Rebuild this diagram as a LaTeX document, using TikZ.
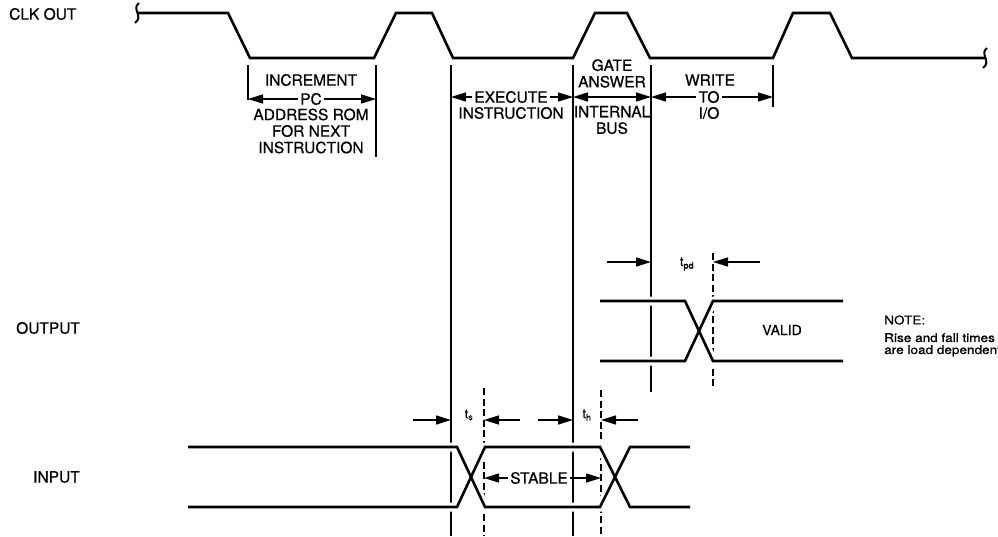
\documentclass[tikz,border=0pt]{standalone}
\usepackage{fontspec}
\setmainfont{TeX Gyre Heros}[FakeBold=0.7]
\usetikzlibrary{arrows.meta}

\tikzset{
  trace/.style={line width=2.6pt},
  guide/.style={line width=1.3pt},
  guidedash/.style={line width=1.3pt, dash pattern=on 7pt off 3.5pt},
  dimarrow/.style={line width=1.5pt, -{Triangle[length=15pt,width=9pt]}},
  dimboth/.style={line width=1.5pt, {Triangle[length=15pt,width=9pt]}-{Triangle[length=15pt,width=9pt]}},
  lbl/.style={inner sep=0pt, align=center, font=\fontsize{15.5}{16.5}\selectfont},
  gap/.style={inner xsep=2pt},
  sub/.style={inner sep=0pt, font=\fontsize{13}{14}\selectfont},
  notetext/.style={inner sep=0pt, align=left, xscale=1.13, font=\fontsize{12}{12}\selectfont},
}

\begin{document}
\begin{tikzpicture}[x=1pt,y=-1pt]
    \useasboundingbox (0,0) rectangle (998,536);

    % signal names
    \node[lbl,anchor=west] (clkname) at (9,14) {CLK OUT};
    \node[lbl,anchor=west] (outname) at (16,328) {OUTPUT};
    \node[lbl,anchor=west] (inname) at (33,477) {INPUT};

    % clock
    \draw[trace] (137,13) -- (228,13) -- (250,58) -- (374,58) -- (396,13) -- (432,13) -- (453,58)
        -- (573,58) -- (595,13) -- (627,13) -- (650,58) -- (773,58) -- (793,13) -- (830,13)
        -- (852,58) -- (985,58);
    \draw[line width=2pt] (139,3) .. controls (131,9) and (144,16) .. (135,23);
    \draw[line width=2pt] (987,48) .. controls (979,54) and (992,61) .. (983,68);

    % cycle boundaries
    \coordinate (incL) at (248,65);
    \coordinate (incR) at (376,65);
    \coordinate (exeL) at (451,65);
    \coordinate (gateL) at (573,65);
    \coordinate (gateR) at (651,65);
    \coordinate (wrR) at (773,65);
    \draw[guide] (incL) -- ++(0,35);
    \draw[guide] (incR) -- ++(0,92);
    \draw[guide] (exeL) -- ++(0,471);
    \draw[guide] (gateL) -- ++(0,471);
    \draw[guide] (gateR) -- ++(0,327);
    \draw[guide] (wrR) -- ++(0,42);

    % timing marks
    \coordinate (tpdD) at (713,253);
    \coordinate (tsD) at (484,388);
    \coordinate (thD) at (601,390);
    \draw[guidedash] (tpdD) -- ++(0,135);
    \draw[guidedash] (tsD) -- ++(0,148);
    \draw[guidedash] (thD) -- ++(0,146);

    % what happens in each part of the cycle
    \node[lbl] (incT) at (311,80) {INCREMENT};
    \node[lbl,gap] (incPC) at (311,99) {PC};
    \node[lbl] (incB) at (311,131) {ADDRESS ROM\\FOR NEXT\\INSTRUCTION};
    \draw[dimarrow] (incPC.west) -- (incL |- incPC);
    \draw[dimarrow] (incPC.east) -- (incR |- incPC);

    \node[lbl,gap] (exeT) at (511,97) {EXECUTE};
    \node[lbl] (exeB) at (511,113) {INSTRUCTION};
    \draw[dimarrow] (exeT.west) -- (exeL |- exeT);
    \draw[dimarrow] (exeT.east) -- (gateL |- exeT);

    \node[lbl] (gateT) at (612,73.5) {GATE\\ANSWER};
    \coordinate (gateMid) at (612,97);
    \draw[dimboth] (gateL |- gateMid) -- (gateR |- gateMid);
    \node[lbl] (gateB) at (612,120) {INTERNAL\\BUS};

    \node[lbl] (wrT) at (710,80) {WRITE};
    \node[lbl,gap] (wrTO) at (709,97) {TO};
    \node[lbl] (wrB) at (709,113) {I/O};
    \draw[dimarrow] (wrTO.west) -- (gateR |- wrTO);
    \draw[dimarrow] (wrTO.east) -- (wrR |- wrTO);

    % output delay
    \node[sub] (tpd) at (687,264) {t\textsubscript{pd}};
    \coordinate (tpdA) at (607,262);
    \coordinate (tpdB) at (760,262);
    \draw[dimarrow] (tpdA) -- (gateR |- tpdA);
    \draw[dimarrow] (tpdB) -- (tpdD |- tpdB);

    % input setup and hold
    \node[sub] (ts) at (469,415) {t\textsubscript{s}};
    \node[sub] (th) at (587,415) {t\textsubscript{h}};
    \coordinate (tsA) at (413,420);
    \coordinate (tsB) at (520,420);
    \coordinate (thA) at (538,420);
    \coordinate (thB) at (638,420);
    \draw[dimarrow] (tsA) -- (exeL |- tsA);
    \draw[dimarrow] (tsB) -- (tsD |- tsB);
    \draw[dimarrow] (thA) -- (gateL |- thA);
    \draw[dimarrow] (thB) -- (thD |- thB);

    \node[lbl,gap] (stable) at (539,478) {STABLE};
    \draw[dimarrow] (stable.west) -- (tsD |- stable);
    \draw[dimarrow] (stable.east) -- (thD |- stable);

    % output and input levels (white first, so the guides are broken)
    \foreach \ink/\lw in {white/9pt, black/2.6pt} {
        \draw[line width=\lw, draw=\ink] (188,447) -- (457,447) -- (485,507) -- (600,507) -- (630,447) -- (690,447);
        \draw[line width=\lw, draw=\ink] (188,507) -- (457,507) -- (485,447) -- (600,447) -- (630,507) -- (690,507);
        \draw[line width=\lw, draw=\ink] (600,301) -- (685,301) -- (713,361) -- (843,361);
        \draw[line width=\lw, draw=\ink] (600,361) -- (685,361) -- (713,301) -- (843,301);
    }
    \node[lbl, font=\fontsize{14}{15}\selectfont] (valid) at (782,330) {VALID};

    % note
    \node[notetext, anchor=west] (notehd) at (884,320) {NOTE:};
    \node[notetext, anchor=north west] (notetx) at (884,333) {Rise and fall times\\are load dependent};
\end{tikzpicture}
\end{document}
